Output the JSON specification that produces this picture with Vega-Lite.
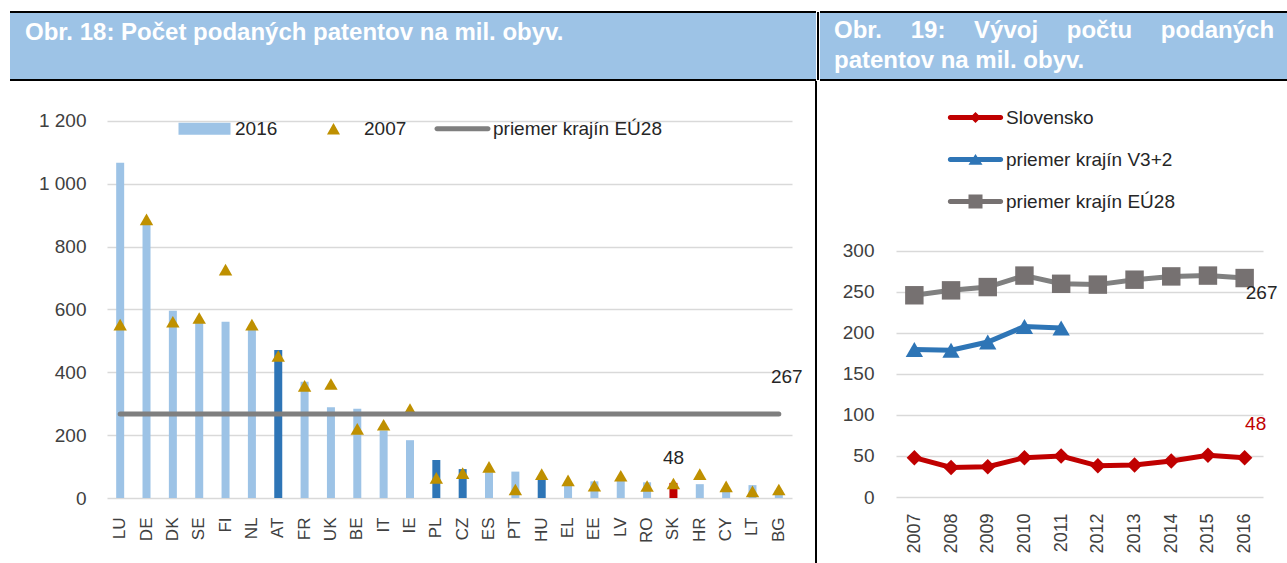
{
  "$schema": "https://vega.github.io/schema/vega-lite/v6.json",
  "padding": {"left": 9, "top": 11, "right": 0, "bottom": 0},
  "background": "white",
  "spacing": 0,
  "config": {
    "font": "Liberation Sans",
    "view": {"stroke": null},
    "axis": {"labelFont": "Liberation Sans", "labelColor": "#404040", "labelFontSize": 19, "domain": false, "ticks": false, "title": null, "grid": false},
    "legend": {"labelFont": "Liberation Sans", "labelFontSize": 19, "labelColor": "#404040", "title": null, "padding": 0, "labelLimit": 400}
  },
  "resolve": {"scale": {"color": "independent", "shape": "independent", "fill": "independent", "stroke": "independent"}, "legend": {"color": "independent", "shape": "independent", "fill": "independent", "stroke": "independent"}},
  "datasets": {
    "krajiny": [
      {"krajina": "LU", "rok2016": 1067, "rok2007": 552, "skupina": "EÚ"},
      {"krajina": "DE", "rok2016": 870, "rok2007": 887, "skupina": "EÚ"},
      {"krajina": "DK", "rok2016": 596, "rok2007": 561, "skupina": "EÚ"},
      {"krajina": "SE", "rok2016": 565, "rok2007": 573, "skupina": "EÚ"},
      {"krajina": "FI", "rok2016": 561, "rok2007": 727, "skupina": "EÚ"},
      {"krajina": "NL", "rok2016": 540, "rok2007": 552, "skupina": "EÚ"},
      {"krajina": "AT", "rok2016": 471, "rok2007": 452, "skupina": "V3+2"},
      {"krajina": "FR", "rok2016": 370, "rok2007": 357, "skupina": "EÚ"},
      {"krajina": "UK", "rok2016": 289, "rok2007": 363, "skupina": "EÚ"},
      {"krajina": "BE", "rok2016": 284, "rok2007": 220, "skupina": "EÚ"},
      {"krajina": "IT", "rok2016": 215, "rok2007": 233, "skupina": "EÚ"},
      {"krajina": "IE", "rok2016": 184, "rok2007": 283, "skupina": "EÚ"},
      {"krajina": "PL", "rok2016": 121, "rok2007": 64, "skupina": "V3+2"},
      {"krajina": "CZ", "rok2016": 92, "rok2007": 79, "skupina": "V3+2"},
      {"krajina": "ES", "rok2016": 82, "rok2007": 99, "skupina": "EÚ"},
      {"krajina": "PT", "rok2016": 84, "rok2007": 27, "skupina": "EÚ"},
      {"krajina": "HU", "rok2016": 65, "rok2007": 76, "skupina": "V3+2"},
      {"krajina": "EL", "rok2016": 42, "rok2007": 56, "skupina": "EÚ"},
      {"krajina": "EE", "rok2016": 53, "rok2007": 39, "skupina": "EÚ"},
      {"krajina": "LV", "rok2016": 55, "rok2007": 71, "skupina": "EÚ"},
      {"krajina": "RO", "rok2016": 50, "rok2007": 38, "skupina": "EÚ"},
      {"krajina": "SK", "rok2016": 48, "rok2007": 46, "skupina": "SK"},
      {"krajina": "HR", "rok2016": 44, "rok2007": 76, "skupina": "EÚ"},
      {"krajina": "CY", "rok2016": 22, "rok2007": 37, "skupina": "EÚ"},
      {"krajina": "LT", "rok2016": 41, "rok2007": 21, "skupina": "EÚ"},
      {"krajina": "BG", "rok2016": 25, "rok2007": 27, "skupina": "EÚ"}
    ],
    "eu": [{"od": "LU", "do": "BG", "hodnota": 267}],
    "legenda1": [{"polozka": "2016"}, {"polozka": "2007"}, {"polozka": "priemer krajín EÚ28"}],
    "legenda2": [{"rad": "Slovensko"}, {"rad": "priemer krajín V3+2"}, {"rad": "priemer krajín EÚ28"}],
    "vyvoj": [
      {"rok": "2007", "rad": "Slovensko", "hodnota": 48},
      {"rok": "2008", "rad": "Slovensko", "hodnota": 36},
      {"rok": "2009", "rad": "Slovensko", "hodnota": 37},
      {"rok": "2010", "rad": "Slovensko", "hodnota": 48},
      {"rok": "2011", "rad": "Slovensko", "hodnota": 50},
      {"rok": "2012", "rad": "Slovensko", "hodnota": 38},
      {"rok": "2013", "rad": "Slovensko", "hodnota": 39},
      {"rok": "2014", "rad": "Slovensko", "hodnota": 44},
      {"rok": "2015", "rad": "Slovensko", "hodnota": 51},
      {"rok": "2016", "rad": "Slovensko", "hodnota": 48},
      {"rok": "2007", "rad": "priemer krajín V3+2", "hodnota": 180},
      {"rok": "2008", "rad": "priemer krajín V3+2", "hodnota": 179},
      {"rok": "2009", "rad": "priemer krajín V3+2", "hodnota": 189},
      {"rok": "2010", "rad": "priemer krajín V3+2", "hodnota": 208},
      {"rok": "2011", "rad": "priemer krajín V3+2", "hodnota": 206},
      {"rok": "2007", "rad": "priemer krajín EÚ28", "hodnota": 246},
      {"rok": "2008", "rad": "priemer krajín EÚ28", "hodnota": 252},
      {"rok": "2009", "rad": "priemer krajín EÚ28", "hodnota": 256},
      {"rok": "2010", "rad": "priemer krajín EÚ28", "hodnota": 270},
      {"rok": "2011", "rad": "priemer krajín EÚ28", "hodnota": 260},
      {"rok": "2012", "rad": "priemer krajín EÚ28", "hodnota": 259},
      {"rok": "2013", "rad": "priemer krajín EÚ28", "hodnota": 265},
      {"rok": "2014", "rad": "priemer krajín EÚ28", "hodnota": 269},
      {"rok": "2015", "rad": "priemer krajín EÚ28", "hodnota": 270},
      {"rok": "2016", "rad": "priemer krajín EÚ28", "hodnota": 267}
    ]
  },
  "vconcat": [
    {
      "spacing": 0,
      "hconcat": [
        {
          "width": 806, "height": 68,
          "view": {"fill": "#9DC3E6", "stroke": "black", "strokeWidth": 2, "strokeDash": [806, 68]},
          "title": {"text": "Obr. 18: Počet podaných patentov na mil. obyv.", "anchor": "start", "orient": "top", "frame": "group", "offset": 0, "dy": 52, "lineHeight": 24, "baseline": "alphabetic", "dx": 15, "color": "white", "font": "Liberation Sans", "fontSize": 24, "fontWeight": "bold"},
          "data": {"values": [{}]},
          "mark": {"type": "text", "text": ""}
        },
        {
          "width": 2, "height": 68,
          "view": {"fill": "black", "stroke": null},
          "data": {"values": [{}]},
          "mark": {"type": "text", "text": ""}
        },
        {
          "width": 469, "height": 68,
          "view": {"fill": "#9DC3E6", "stroke": "black", "strokeWidth": 2, "strokeDash": [469, 68]},
          "title": {"text": ["Obr.\u00a0\u00a0\u00a0\u00a0\u200a19:\u00a0\u00a0\u00a0\u00a0\u200aVývoj\u00a0\u00a0\u00a0\u00a0\u200apočtu\u00a0\u00a0\u00a0\u00a0\u200apodaných", "patentov na mil. obyv."], "lineHeight": 30, "anchor": "start", "orient": "top", "frame": "group", "offset": 0, "dy": 80, "baseline": "alphabetic", "dx": 14, "color": "white", "font": "Liberation Sans", "fontSize": 24, "fontWeight": "bold"},
          "data": {"values": [{}]},
          "mark": {"type": "text", "text": ""}
        }
      ]
    },
    {
      "spacing": 12,
      "resolve": {"scale": {"color": "independent", "shape": "independent", "fill": "independent", "stroke": "independent"}, "legend": {"color": "independent", "shape": "independent", "fill": "independent", "stroke": "independent"}},
      "hconcat": [
        {
          "width": 1, "height": 20,
          "view": {"fill": "white", "stroke": null},
          "data": {"values": [{}]},
          "mark": {"type": "text", "text": ""}
        },
        {
          "width": 685, "height": 417,
          "data": {"name": "krajiny"},
          "layer": [
            {
              "mark": {"type": "bar", "size": 8},
              "encoding": {
                "x": {"field": "krajina", "type": "nominal", "scale": {"type": "band", "paddingInner": 0, "paddingOuter": 0, "domain": ["LU","DE","DK","SE","FI","NL","AT","FR","UK","BE","IT","IE","PL","CZ","ES","PT","HU","EL","EE","LV","RO","SK","HR","CY","LT","BG"]}, "axis": {"labelAngle": -90, "labelFontSize": 17, "labelPadding": 19, "labelColor": "#404040"}},
                "y": {"field": "rok2016", "type": "quantitative", "scale": {"domain": [0, 1327.3]}, "axis": {"values": [0, 200, 400, 600, 800, 1000, 1200], "grid": true, "gridColor": "#D9D9D9", "gridWidth": 1.5, "labelExpr": "replace(format(datum.value, ','), ',', ' ')", "labelPadding": 21, "minExtent": 84, "maxExtent": 84}},
                "fill": {"field": "skupina", "type": "nominal", "scale": {"domain": ["EÚ", "V3+2", "SK"], "range": ["#9DC3E6", "#2E75B6", "#C00000"]}, "legend": null}
              }
            },
            {
              "mark": {"type": "point", "shape": "triangle-up", "filled": true, "size": 180, "color": "#BF9000", "opacity": 1},
              "encoding": {
                "x": {"field": "krajina", "type": "nominal"},
                "y": {"field": "rok2007", "type": "quantitative", "scale": {"domain": [0, 1327.3]}}
              }
            },
            {
              "data": {"name": "eu"},
              "mark": {"type": "rule", "strokeWidth": 5, "strokeCap": "round", "color": "#7F7F7F"},
              "encoding": {
                "x": {"field": "od", "type": "nominal"},
                "x2": {"field": "do"},
                "y": {"field": "hodnota", "type": "quantitative", "scale": {"domain": [0, 1327.3]}}
              }
            },
            {
              "data": {"name": "eu"},
              "mark": {"type": "text", "dx": 8, "dy": -37, "fontSize": 19, "color": "#262626"},
              "encoding": {
                "x": {"field": "do", "type": "nominal"},
                "y": {"field": "hodnota", "type": "quantitative", "scale": {"domain": [0, 1327.3]}},
                "text": {"field": "hodnota"}
              }
            },
            {
              "transform": [{"filter": "datum.krajina === 'SK'"}],
              "mark": {"type": "text", "dy": -25, "fontSize": 19, "color": "#262626"},
              "encoding": {
                "x": {"field": "krajina", "type": "nominal"},
                "y": {"field": "rok2016", "type": "quantitative", "scale": {"domain": [0, 1327.3]}},
                "text": {"field": "rok2016"}
              }
            },
            {
              "data": {"name": "legenda1"},
              "mark": {"type": "point", "filled": true, "opacity": 0},
              "encoding": {
                "color": {"field": "polozka", "type": "nominal", "scale": {"domain": ["2016", "2007", "priemer krajín EÚ28"], "range": ["#9DC3E6", "#BF9000", "#7F7F7F"]},
                  "legend": {"orient": "none", "legendX": 88, "legendY": 38, "direction": "horizontal", "symbolSize": 196, "labelOffset": 21, "columnPadding": 27, "symbolStrokeWidth": 0, "symbolOpacity": 1, "labelColor": "#262626"}},
                "shape": {"field": "polozka", "type": "nominal", "scale": {"domain": ["2016", "2007", "priemer krajín EÚ28"], "range": [
                  "M-3.714,-0.857L3.714,-0.857L3.714,0.857L-3.714,0.857Z M-4,0L-4,0Z M4,0L4,0Z",
                  "M0,-0.82L0.93,0.82L-0.93,0.82Z M-4,0L-4,0Z M4,0L4,0Z",
                  "M-3.643,-0.357L3.643,-0.357A0.357,0.357,0,0,1,3.643,0.357L-3.643,0.357A0.357,0.357,0,0,1,-3.643,-0.357Z"]},
                  "legend": {"orient": "none", "legendX": 88, "legendY": 38, "direction": "horizontal", "symbolSize": 196, "labelOffset": 21, "columnPadding": 27, "symbolStrokeWidth": 0, "symbolOpacity": 1, "labelColor": "#262626"}}
              }
            }
          ]
        },
        {
          "width": 2, "height": 482,
          "view": {"fill": "black", "stroke": null},
          "data": {"values": [{}]},
          "mark": {"type": "text", "text": ""}
        },
        {
          "width": 367, "height": 416,
          "data": {"name": "vyvoj"},
          "layer": [
            {
              "transform": [{"filter": "datum.rad === 'Slovensko'"}],
              "mark": {"type": "line", "strokeWidth": 5, "color": "#C00000", "point": {"shape": "diamond", "filled": true, "size": 240, "color": "#C00000", "opacity": 1}},
              "encoding": {
                "x": {"field": "rok", "type": "ordinal", "scale": {"type": "point", "padding": 0.5}, "axis": {"labelAngle": -90, "labelFontSize": 18, "labelPadding": 16}},
                "y": {"field": "hodnota", "type": "quantitative", "scale": {"domain": [0, 507.3]}, "axis": {"values": [0, 50, 100, 150, 200, 250, 300], "grid": true, "gridColor": "#D9D9D9", "gridWidth": 1.5, "labelPadding": 22, "minExtent": 67, "maxExtent": 67}}
              }
            },
            {
              "transform": [{"filter": "datum.rad === 'priemer krajín V3+2'"}],
              "mark": {"type": "line", "strokeWidth": 5, "color": "#2E75B6", "point": {"shape": "triangle-up", "filled": true, "size": 300, "color": "#2E75B6", "opacity": 1}},
              "encoding": {"x": {"field": "rok", "type": "ordinal"}, "y": {"field": "hodnota", "type": "quantitative", "scale": {"domain": [0, 507.3]}}}
            },
            {
              "transform": [{"filter": "datum.rad === 'priemer krajín EÚ28'"}],
              "mark": {"type": "line", "strokeWidth": 5, "color": "#808080", "point": {"shape": "square", "filled": true, "size": 340, "color": "#767171", "opacity": 1}},
              "encoding": {"x": {"field": "rok", "type": "ordinal"}, "y": {"field": "hodnota", "type": "quantitative", "scale": {"domain": [0, 507.3]}}}
            },
            {
              "transform": [{"filter": "datum.rad === 'priemer krajín EÚ28' && datum.rok === '2016'"}],
              "mark": {"type": "text", "dx": 17, "dy": 15, "fontSize": 19, "color": "#262626"},
              "encoding": {"x": {"field": "rok", "type": "ordinal"}, "y": {"field": "hodnota", "type": "quantitative", "scale": {"domain": [0, 507.3]}}, "text": {"field": "hodnota"}}
            },
            {
              "transform": [{"filter": "datum.rad === 'Slovensko' && datum.rok === '2016'"}],
              "mark": {"type": "text", "dx": 11, "dy": -34, "fontSize": 19, "color": "#C00000"},
              "encoding": {"x": {"field": "rok", "type": "ordinal"}, "y": {"field": "hodnota", "type": "quantitative", "scale": {"domain": [0, 507.3]}}, "text": {"field": "hodnota"}}
            },
            {
              "data": {"name": "legenda2"},
              "mark": {"type": "point", "filled": true, "opacity": 0},
              "encoding": {
                "color": {"field": "rad", "type": "nominal", "scale": {"domain": ["Slovensko", "priemer krajín V3+2", "priemer krajín EÚ28"], "range": ["#C00000", "#2E75B6", "#767171"]},
                  "legend": {"orient": "none", "legendX": 70, "legendY": 27, "direction": "vertical", "symbolSize": 196, "labelOffset": 21, "rowPadding": 22, "symbolStrokeWidth": 0, "symbolOpacity": 1, "labelColor": "#262626"}},
                "shape": {"field": "rad", "type": "nominal", "scale": {"domain": ["Slovensko", "priemer krajín V3+2", "priemer krajín EÚ28"], "range": [
                  "M-3.61,-0.34L3.61,-0.34A0.34,0.34,0,0,1,3.61,0.34L-3.61,0.34A0.34,0.34,0,0,1,-3.61,-0.34Z M0,-0.79L0.79,0L0,0.79L-0.79,0Z",
                  "M-3.61,-0.34L3.61,-0.34A0.34,0.34,0,0,1,3.61,0.34L-3.61,0.34A0.34,0.34,0,0,1,-3.61,-0.34Z M0,-0.8L1,0.75L-1,0.75Z",
                  "M-3.61,-0.34L3.61,-0.34A0.34,0.34,0,0,1,3.61,0.34L-3.61,0.34A0.34,0.34,0,0,1,-3.61,-0.34Z M-1,-1L1,-1L1,1L-1,1Z"]},
                  "legend": {"orient": "none", "legendX": 70, "legendY": 27, "direction": "vertical", "symbolSize": 196, "labelOffset": 21, "rowPadding": 22, "symbolStrokeWidth": 0, "symbolOpacity": 1, "labelColor": "#262626"}}
              }
            }
          ]
        }
      ]
    }
  ]
}
